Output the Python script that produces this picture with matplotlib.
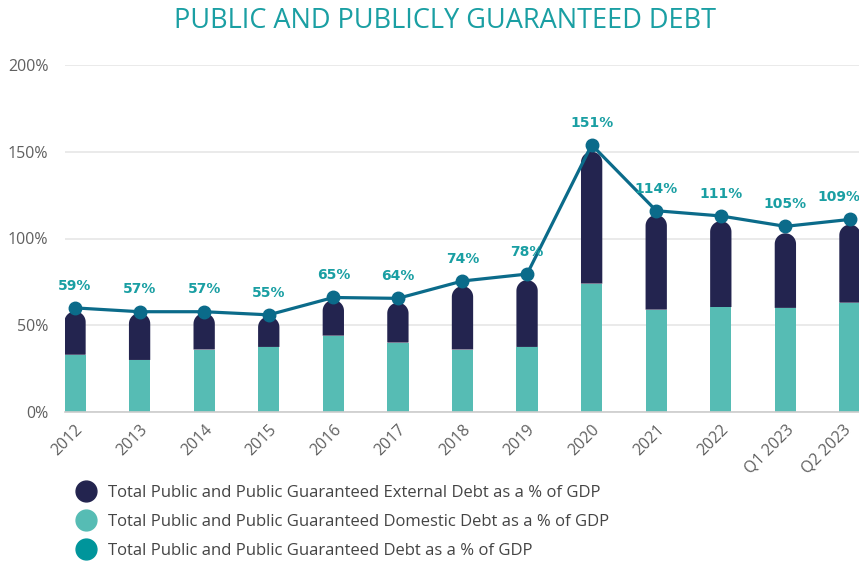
import matplotlib.pyplot as plt
import numpy as np
import matplotlib.transforms as mtransforms
from matplotlib.patches import Polygon
from matplotlib.lines import Line2D

plt.rcParams['font.family'] = ['Open Sans', 'DejaVu Sans']

# data (% of GDP)
periods = ['2012', '2013', '2014', '2015', '2016', '2017', '2018', '2019',
           '2020', '2021', '2022', 'Q1 2023', 'Q2 2023']
domestic = [33, 30, 36, 37.5, 44, 40, 36, 37.5, 74, 59, 60.5, 60, 63]
external = [25, 27, 21, 17.5, 20.5, 23, 36.5, 38.5, 76, 54.5, 49.5, 43, 45]
total_line = [60, 57.8, 57.8, 56, 66, 65.5, 75.5, 79.5, 154, 116, 113, 107, 111]
total_labels = ['59%', '57%', '57%', '55%', '65%', '64%', '74%', '78%',
                '151%', '114%', '111%', '105%', '109%']

c_ext = '#23244f'
c_dom = '#56bcb4'
c_line = '#0b6b8a'
c_total = '#00959b'
c_label = '#1a9fa3'

fig = plt.figure(figsize=(8.59, 5.63), dpi=100)
ax = fig.add_axes([65 / 859, 1 - 412 / 563, (859 - 65) / 859, (412 - 65) / 563])

x = np.arange(len(periods))
width = 0.33
x0, x1 = -0.155, 12.14
ax.set_xlim(x0, x1)
ax.set_ylim(0, 200)

# y-size of the round cap, so it is a half circle on screen
fig.canvas.draw()
bbox = ax.get_window_extent()
px_x = bbox.width / (x1 - x0)
px_y = bbox.height / 200
r = width / 2
ry = r * px_x / px_y

t = np.linspace(0, np.pi, 40)
for i in range(len(periods)):
    base = domestic[i]
    top = domestic[i] + external[i]
    cy = top - ry
    pts = [(x[i] + r, base)]
    pts += list(zip(x[i] + r * np.cos(t), cy + ry * np.sin(t)))
    pts += [(x[i] - r, base)]
    ax.add_patch(Polygon(pts, closed=True, fc=c_ext, ec='none', zorder=2))
ax.bar(x, domestic, width=width, color=c_dom, zorder=3)

ax.plot(x, total_line, color=c_line, lw=2.3, marker='o', ms=9, zorder=4, clip_on=False)
for i in range(len(periods)):
    dx = -8 if i == len(periods) - 1 else 0
    ax.annotate(total_labels[i], (x[i], total_line[i]), xytext=(dx, 16),
                textcoords='offset points', ha='center', va='center',
                color=c_label, fontsize=10, fontweight='semibold',
                family=['DejaVu Sans'], zorder=5)

ax.set_yticks([0, 50, 100, 150, 200])
ax.set_yticklabels(['0%', '50%', '100%', '150%', '200%'])
ax.set_xticks(x)
ax.set_xticklabels(periods, rotation=45, ha='right', rotation_mode='anchor')
ax.tick_params(axis='both', length=0, labelsize=11.5, labelcolor='#606060')
ax.tick_params(axis='x', pad=7)
ax.tick_params(axis='y', pad=12)
# keep the last tick label inside the picture
last = ax.get_xticklabels()[-1]
last.set_transform(last.get_transform() + mtransforms.ScaledTranslation(-5 / 72, 0, fig.dpi_scale_trans))
ax.grid(axis='y', color='#e6e6e6', lw=1.2, zorder=0)
for s in ['top', 'right', 'left']:
    ax.spines[s].set_visible(False)
ax.spines['bottom'].set_color('#cccccc')
ax.spines['bottom'].set_linewidth(1.2)
ax.spines['bottom'].set_zorder(5)

fig.text(445 / 859, 1 - 21 / 563, 'PUBLIC AND PUBLICLY GUARANTEED DEBT',
         ha='center', va='center', color='#1a9fa3', fontsize=19.5)

handles = [
    Line2D([], [], ls='none', marker='o', ms=15, color=c_ext),
    Line2D([], [], ls='none', marker='o', ms=15, color=c_dom),
    Line2D([], [], ls='none', marker='o', ms=15, color=c_total),
]
labels = ['Total Public and Public Guaranteed External Debt as a % of GDP',
          'Total Public and Public Guaranteed Domestic Debt as a % of GDP',
          'Total Public and Public Guaranteed Debt as a % of GDP']
leg = fig.legend(handles, labels, loc='upper left', bbox_to_anchor=(76 / 859, 1 - 485 / 563),
                 frameon=False, fontsize=12, labelspacing=0.78, handletextpad=0.75,
                 handlelength=1.2, borderaxespad=0, borderpad=0)
for t_ in leg.get_texts():
    t_.set_color('#444444')

fig.savefig('out.png', dpi=100)
